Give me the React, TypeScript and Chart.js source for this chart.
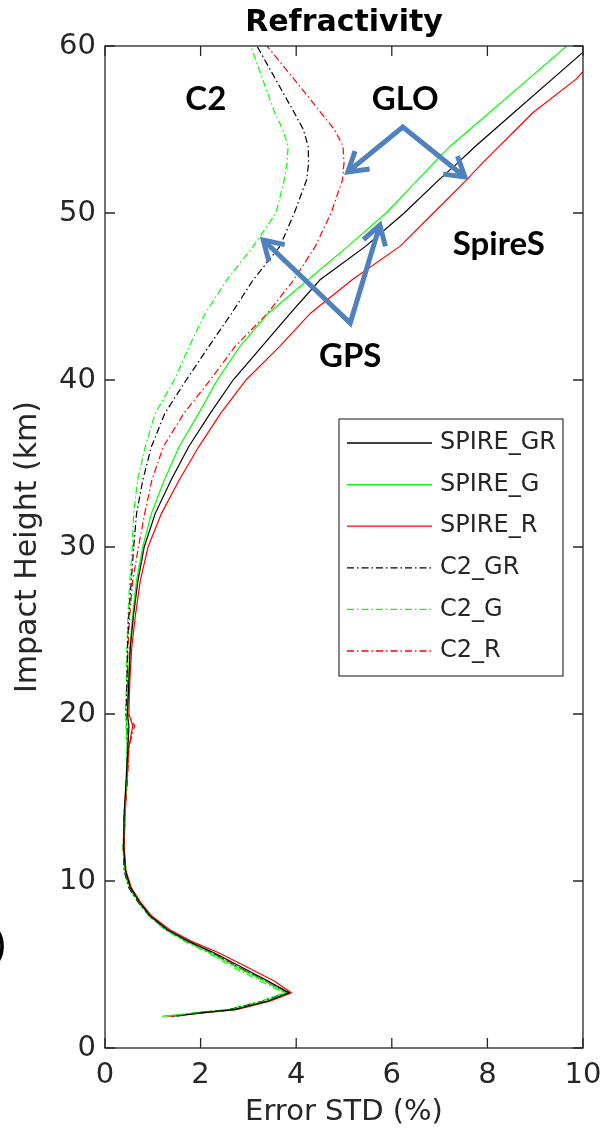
import { useEffect, useRef } from 'react';
import { Chart, registerables } from 'chart.js';

Chart.register(...registerables);

// Impact heights (km), shared by all profiles
const heights = [1.9, 2.1, 2.3, 2.8, 3.3, 4.0, 4.8, 5.7, 6.4, 7.1, 7.9, 8.7, 9.6, 10.6, 12, 14, 16, 18, 19.3, 20, 22, 24, 26, 28, 30, 32, 34, 36, 38, 40, 42, 44, 46, 48, 50, 52, 53, 54, 55, 56, 58, 60];

// Error STD (%) per series
const spireGR = [1.5, 2.0, 2.7, 3.4, 3.85, 3.42, 2.88, 2.28, 1.74, 1.3, 0.95, 0.73, 0.53, 0.43, 0.39, 0.40, 0.44, 0.48, 0.50, 0.47, 0.50, 0.53, 0.60, 0.69, 0.82, 1.05, 1.38, 1.75, 2.2, 2.68, 3.28, 3.88, 4.5, 5.45, 6.26, 6.99, 7.38, 7.75, 8.15, 8.55, 9.35, 10.15];
const spireG = [1.2, 1.95, 2.65, 3.35, 3.8, 3.35, 2.78, 2.2, 1.7, 1.28, 0.94, 0.72, 0.52, 0.42, 0.38, 0.41, 0.45, 0.47, 0.44, 0.46, 0.49, 0.52, 0.58, 0.66, 0.79, 0.97, 1.24, 1.55, 1.96, 2.35, 2.82, 3.42, 4.25, 5.08, 5.88, 6.55, 6.88, 7.22, 7.63, 8.04, 8.85, 9.66];
const spireR = [1.3, 2.05, 2.75, 3.45, 3.9, 3.55, 3.0, 2.38, 1.8, 1.35, 0.98, 0.75, 0.55, 0.44, 0.40, 0.42, 0.46, 0.50, 0.58, 0.50, 0.52, 0.56, 0.64, 0.74, 0.9, 1.18, 1.55, 1.96, 2.42, 2.95, 3.65, 4.3, 5.17, 6.17, 6.87, 7.57, 7.9, 8.25, 8.6, 8.95, 9.85, 10.5];
const c2GR = [1.4, 1.9, 2.6, 3.3, 3.8, 3.35, 2.8, 2.22, 1.7, 1.27, 0.93, 0.7, 0.5, 0.4, 0.38, 0.40, 0.45, 0.47, 0.46, 0.44, 0.46, 0.47, 0.5, 0.55, 0.6, 0.66, 0.79, 0.97, 1.25, 1.7, 2.17, 2.65, 3.1, 3.66, 3.96, 4.22, 4.26, 4.25, 4.15, 3.96, 3.57, 3.18];
const c2G = [1.2, 1.85, 2.55, 3.25, 3.75, 3.25, 2.7, 2.15, 1.66, 1.25, 0.92, 0.7, 0.5, 0.41, 0.38, 0.41, 0.45, 0.46, 0.45, 0.43, 0.45, 0.46, 0.48, 0.52, 0.57, 0.6, 0.68, 0.84, 1.05, 1.45, 1.76, 2.1, 2.55, 3.1, 3.58, 3.75, 3.81, 3.83, 3.72, 3.55, 3.3, 3.05];
const c2R = [1.35, 2.0, 2.7, 3.4, 3.88, 3.38, 2.82, 2.25, 1.72, 1.3, 0.96, 0.74, 0.54, 0.43, 0.40, 0.42, 0.47, 0.5, 0.62, 0.47, 0.47, 0.48, 0.52, 0.58, 0.7, 0.83, 0.98, 1.22, 1.65, 2.2, 2.72, 3.4, 3.95, 4.4, 4.73, 4.97, 5.0, 4.98, 4.8, 4.52, 3.96, 3.39];

const seriesLabels = ['SPIRE_GR', 'SPIRE_G', 'SPIRE_R', 'C2_GR', 'C2_G', 'C2_R'];
const seriesValues = [spireGR, spireG, spireR, c2GR, c2G, c2R];
const seriesColors = ['#000000', '#00ff00', '#ff0000', '#000000', '#00ff00', '#ff0000'];
const seriesDashed = [false, false, false, true, true, true];

const xTickValues = [0, 2, 4, 6, 8, 10];
const yTickValues = [0, 10, 20, 30, 40, 50, 60];

// Annotation texts (data units)
const noteLabels = ['C2', 'GLO', 'SpireS', 'GPS'];
const noteX = [2.11, 6.28, 8.24, 5.13];
const noteY = [56.8, 56.8, 48.1, 41.4];

// Arrow groups: vertex and two tips (data units)
const arrowVertexX = [6.23, 5.13];
const arrowVertexY = [55.15, 43.41];
const arrowTipAX = [5.08, 3.31];
const arrowTipAY = [52.46, 48.38];
const arrowTipBX = [7.53, 5.75];
const arrowTipBY = [52.16, 49.28];

const FONT = "'DejaVu Sans', 'Noto Sans', sans-serif";
const AXIS_COLOR = '#262626';
const DASH = [7, 3, 1.5, 3];

function drawHead(ctx: CanvasRenderingContext2D, x1: number, y1: number, x2: number, y2: number) {
  const ang = Math.atan2(y2 - y1, x2 - x1);
  const L = 22;
  const s = 0.55;
  ctx.beginPath();
  ctx.moveTo(x2 - L * Math.cos(ang - s), y2 - L * Math.sin(ang - s));
  ctx.lineTo(x2, y2);
  ctx.lineTo(x2 - L * Math.cos(ang + s), y2 - L * Math.sin(ang + s));
  ctx.stroke();
}

const decorPlugin = {
  id: 'decor',
  afterDatasetsDraw(chart: any) {
    const { ctx, chartArea: a, scales } = chart;
    const xs = scales.x;
    const ys = scales.y;
    ctx.save();

    // axes box
    ctx.strokeStyle = AXIS_COLOR;
    ctx.lineWidth = 1.3;
    ctx.setLineDash([]);
    ctx.strokeRect(a.left, a.top, a.right - a.left, a.bottom - a.top);

    // inward ticks on all four sides
    const TL = 10;
    ctx.beginPath();
    for (const v of xTickValues) {
      const px = xs.getPixelForValue(v);
      ctx.moveTo(px, a.bottom);
      ctx.lineTo(px, a.bottom - TL);
      ctx.moveTo(px, a.top);
      ctx.lineTo(px, a.top + TL);
    }
    for (const v of yTickValues) {
      const py = ys.getPixelForValue(v);
      ctx.moveTo(a.left, py);
      ctx.lineTo(a.left + TL, py);
      ctx.moveTo(a.right, py);
      ctx.lineTo(a.right - TL, py);
    }
    ctx.stroke();

    // title
    ctx.fillStyle = '#000000';
    ctx.font = `bold 30px ${FONT}`;
    ctx.textAlign = 'center';
    ctx.textBaseline = 'middle';
    ctx.fillText('Refractivity', (a.left + a.right) / 2, 23);

    // legend
    const lb = { left: 339, top: 419, right: 563, bottom: 676 };
    ctx.fillStyle = '#ffffff';
    ctx.fillRect(lb.left, lb.top, lb.right - lb.left, lb.bottom - lb.top);
    ctx.strokeStyle = AXIS_COLOR;
    ctx.lineWidth = 1.1;
    ctx.strokeRect(lb.left, lb.top, lb.right - lb.left, lb.bottom - lb.top);
    ctx.font = `24px ${FONT}`;
    ctx.textAlign = 'left';
    ctx.textBaseline = 'middle';
    chart.data.datasets.forEach((ds: any, i: number) => {
      const ry = 443 + i * 41.6;
      ctx.strokeStyle = ds.borderColor;
      ctx.lineWidth = 1.3;
      ctx.setLineDash(ds.borderDash || []);
      ctx.beginPath();
      ctx.moveTo(347, ry);
      ctx.lineTo(432, ry);
      ctx.stroke();
      ctx.setLineDash([]);
      ctx.fillStyle = AXIS_COLOR;
      ctx.fillText(ds.label, 440, ry);
    });

    // annotation texts
    ctx.fillStyle = '#000000';
    ctx.font = `bold 33px Lato, 'Open Sans', sans-serif`;
    ctx.textAlign = 'center';
    ctx.textBaseline = 'middle';
    noteLabels.forEach((t, i) => {
      ctx.fillText(t, xs.getPixelForValue(noteX[i]), ys.getPixelForValue(noteY[i]));
    });

    // arrows
    ctx.strokeStyle = '#4f81bd';
    ctx.lineWidth = 5;
    ctx.lineJoin = 'miter';
    ctx.lineCap = 'butt';
    arrowVertexX.forEach((vx, i) => {
      const v = { x: xs.getPixelForValue(vx), y: ys.getPixelForValue(arrowVertexY[i]) };
      const ta = { x: xs.getPixelForValue(arrowTipAX[i]), y: ys.getPixelForValue(arrowTipAY[i]) };
      const tb = { x: xs.getPixelForValue(arrowTipBX[i]), y: ys.getPixelForValue(arrowTipBY[i]) };
      ctx.beginPath();
      ctx.moveTo(ta.x, ta.y);
      ctx.lineTo(v.x, v.y);
      ctx.lineTo(tb.x, tb.y);
      ctx.stroke();
      drawHead(ctx, v.x, v.y, ta.x, ta.y);
      drawHead(ctx, v.x, v.y, tb.x, tb.y);
    });

    // cropped fragment of a neighbouring label at the left edge
    ctx.fillStyle = '#000000';
    ctx.font = `bold 34px Lato, sans-serif`;
    ctx.textAlign = 'right';
    ctx.textBaseline = 'middle';
    ctx.fillText(')', 5, 946);

    ctx.restore();
  },
};

export default function App() {
  const ref = useRef<HTMLCanvasElement | null>(null);

  useEffect(() => {
    if (!ref.current) return;
    const datasets = seriesLabels.map((label, i) => ({
      label,
      data: heights.map((h, k) => ({ x: seriesValues[i][k], y: h })),
      borderColor: seriesColors[i],
      backgroundColor: seriesColors[i],
      borderWidth: 1.2,
      borderDash: seriesDashed[i] ? DASH : [],
      showLine: true,
      pointRadius: 0,
      tension: 0,
      fill: false,
    }));

    const chart = new Chart(ref.current, {
      type: 'scatter',
      data: { datasets },
      options: {
        animation: false,
        responsive: false,
        maintainAspectRatio: false,
        layout: { padding: { top: 46, right: 20, left: 0, bottom: 0 } },
        plugins: {
          legend: { display: false },
          tooltip: { enabled: false },
          title: { display: false },
        },
        scales: {
          x: {
            type: 'linear',
            min: 0,
            max: 10,
            afterFit: (s: any) => { s.height = 84; s.paddingLeft = 0; s.paddingRight = 0; },
            afterBuildTicks: (s: any) => { s.ticks = xTickValues.map((v) => ({ value: v })); },
            grid: { display: false, drawTicks: false },
            border: { display: false },
            ticks: { color: AXIS_COLOR, font: { family: FONT, size: 29 }, padding: 10, maxRotation: 0 },
            title: { display: true, text: 'Error STD (%)', color: AXIS_COLOR, font: { family: FONT, size: 29 }, padding: { top: 0, bottom: 2 } },
          },
          y: {
            type: 'linear',
            min: 0,
            max: 60,
            afterFit: (s: any) => { s.width = 105; s.paddingTop = 0; s.paddingBottom = 0; },
            afterBuildTicks: (s: any) => { s.ticks = yTickValues.map((v) => ({ value: v })); },
            grid: { display: false, drawTicks: false },
            border: { display: false },
            ticks: { color: AXIS_COLOR, font: { family: FONT, size: 29 }, padding: 9 },
            title: { display: true, text: 'Impact Height (km)', color: AXIS_COLOR, font: { family: FONT, size: 30 }, padding: { top: 10, bottom: 0 } },
          },
        },
      },
      plugins: [decorPlugin],
    });
    return () => chart.destroy();
  }, []);

  return (
    <div style={{ position: 'fixed', left: 0, top: 0, width: 603, height: 1132, background: '#ffffff' }}>
      <canvas ref={ref} width={603} height={1132} style={{ display: 'block', width: 603, height: 1132 }} />
    </div>
  );
}
